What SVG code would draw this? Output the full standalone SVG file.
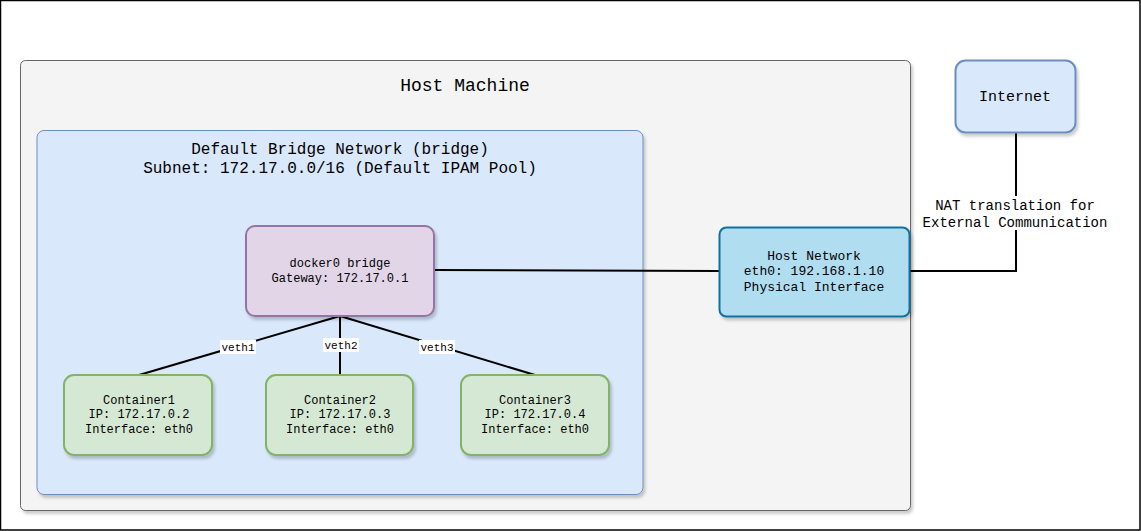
<svg xmlns="http://www.w3.org/2000/svg" width="1141" height="531" viewBox="0 0 1141 531">
<defs>
<filter id="sh" x="-10%" y="-10%" width="130%" height="130%">
<feDropShadow dx="2" dy="3" stdDeviation="1.5" flood-color="#000" flood-opacity="0.2"/>
</filter>
<style>
text{font-family:"Liberation Mono","DejaVu Sans Mono",monospace;fill:#000;text-anchor:middle}
.c{fill:#d5e8d4;stroke:#82b366;stroke-width:2}
.ln{fill:none;stroke:#000;stroke-width:2}
.lbl{fill:#fff}
</style>
</defs>
<rect x="0" y="0" width="1141" height="531" fill="#fff"/>
<rect x="0.5" y="0.5" width="1139.5" height="529.5" fill="none" stroke="#000" stroke-width="1.5"/>
<g id="host-machine">
<rect x="20.5" y="60.5" width="890" height="450" rx="5" fill="#f4f4f4" stroke="#666" stroke-width="1" filter="url(#sh)"/>
<text x="465" y="91" font-size="18">Host Machine</text>
</g>
<g id="bridge-network">
<rect x="37" y="130.5" width="606" height="364" rx="7" fill="#dae8fc" stroke="#6c8ebf" stroke-width="1" filter="url(#sh)"/>
<text x="340" y="154" font-size="16">Default Bridge Network (bridge)</text>
<text x="340" y="173" font-size="16">Subnet: 172.17.0.0/16 (Default IPAM Pool)</text>
</g>
<g id="connectors">
<line class="ln" x1="340" y1="316" x2="139" y2="375"/>
<line class="ln" x1="340" y1="316" x2="340" y2="375"/>
<line class="ln" x1="340" y1="316" x2="535" y2="375"/>
<polyline class="ln" points="434,270 719,271"/>
<polyline class="ln" points="910,271 1016,271 1016,132"/>
<rect class="lbl" x="220" y="340" width="36" height="14"/>
<text x="238" y="351" font-size="11">veth1</text>
<rect class="lbl" x="323" y="338" width="36" height="14"/>
<text x="341" y="349" font-size="11">veth2</text>
<rect class="lbl" x="419" y="340" width="36" height="14"/>
<text x="437" y="351" font-size="11">veth3</text>
<rect class="lbl" x="920" y="196" width="192" height="34"/>
<text x="1015" y="210" font-size="14">NAT translation for</text>
<text x="1015" y="227" font-size="14">External Communication</text>
</g>
<g id="docker0">
<rect x="246" y="226" width="188" height="90" rx="9" fill="#e1d5e7" stroke="#9673a6" stroke-width="2" filter="url(#sh)"/>
<text x="340" y="267" font-size="12">docker0 bridge</text>
<text x="340" y="282" font-size="12">Gateway: 172.17.0.1</text>
</g>
<g id="container1">
<rect class="c" x="64" y="375" width="148" height="80" rx="10" filter="url(#sh)"/>
<text x="139" y="404" font-size="12">Container1</text>
<text x="139" y="418" font-size="12">IP: 172.17.0.2</text>
<text x="139" y="433" font-size="12">Interface: eth0</text>
</g>
<g id="container2">
<rect class="c" x="266" y="375" width="147" height="80" rx="10" filter="url(#sh)"/>
<text x="340" y="404" font-size="12">Container2</text>
<text x="340" y="418" font-size="12">IP: 172.17.0.3</text>
<text x="340" y="433" font-size="12">Interface: eth0</text>
</g>
<g id="container3">
<rect class="c" x="461" y="375" width="148" height="80" rx="10" filter="url(#sh)"/>
<text x="535" y="404" font-size="12">Container3</text>
<text x="535" y="418" font-size="12">IP: 172.17.0.4</text>
<text x="535" y="433" font-size="12">Interface: eth0</text>
</g>
<g id="host-network">
<rect x="719.5" y="227.5" width="190" height="89" rx="7" fill="#b1ddf0" stroke="#10739e" stroke-width="2" filter="url(#sh)"/>
<text x="814" y="260" font-size="13">Host Network</text>
<text x="814" y="275" font-size="13">eth0: 192.168.1.10</text>
<text x="814" y="291" font-size="13">Physical Interface</text>
</g>
<g id="internet">
<rect x="955.5" y="60.5" width="120" height="72" rx="10" fill="#dae8fc" stroke="#6c8ebf" stroke-width="2" filter="url(#sh)"/>
<text x="1015" y="101" font-size="15">Internet</text>
</g>
</svg>
